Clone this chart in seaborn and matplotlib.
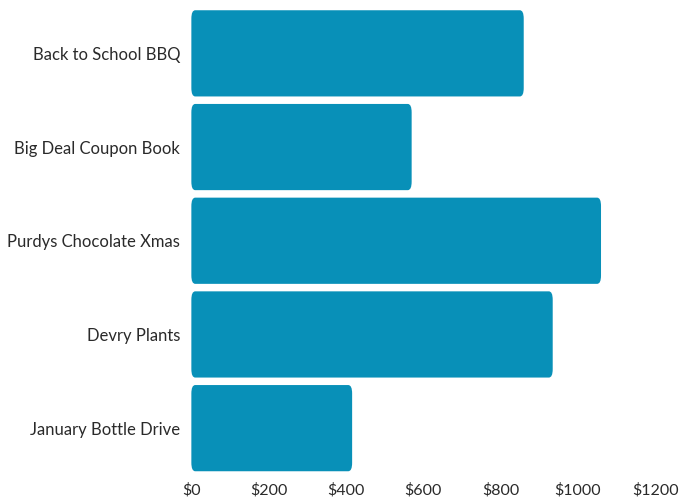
import matplotlib.pyplot as plt
import seaborn as sns
import pandas as pd
from matplotlib.patches import FancyBboxPatch

# values
events = ['Back to School BBQ', 'Big Deal Coupon Book', 'Purdys Chocolate Xmas',
          'Devry Plants', 'January Bottle Drive']
raised = [860, 570, 1060, 935, 416]
xticks = [0, 200, 400, 600, 800, 1000, 1200]

df = pd.DataFrame({'Event': events, 'Raised': raised})

sns.set_theme(style='white')
plt.rcParams['font.family'] = ['Lato', 'DejaVu Sans']

fig = plt.figure(figsize=(6.81, 5.0), dpi=100)
ax = fig.add_axes([0.281, 0.05, 0.681, 0.937])

sns.barplot(data=df, x='Raised', y='Event', color='#0890b8', saturation=1,
            width=0.92, ax=ax)

# swap the plain bars for slightly rounded ones
for p in list(ax.patches):
    x, y = p.get_x(), p.get_y()
    w, h = p.get_width(), p.get_height()
    rb = FancyBboxPatch((x, y), w, h, boxstyle='round,pad=0,rounding_size=10',
                        mutation_aspect=0.009, facecolor=p.get_facecolor(),
                        edgecolor='none')
    p.remove()
    ax.add_patch(rb)

ax.set_xlim(0, 1200)
ax.set_ylim(4.5, -0.5)
ax.set_xticks(xticks)
ax.set_xticklabels([f'${v}' for v in xticks], fontsize=11.5, color='#2a2a2a')
ax.tick_params(axis='y', labelsize=12, labelcolor='#2a2a2a', pad=8, length=0)
ax.tick_params(axis='x', pad=6, length=0)
ax.set_xlabel('')
ax.set_ylabel('')
for s in ax.spines.values():
    s.set_visible(False)

plt.savefig('out.png', dpi=100)
plt.close()
